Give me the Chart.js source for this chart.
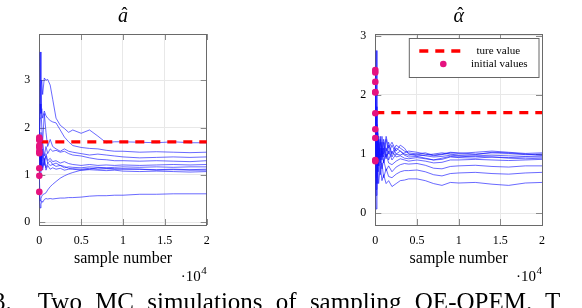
<!DOCTYPE html>
<html><head><meta charset="utf-8">
<script src="https://cdn.jsdelivr.net/npm/chart.js@4/dist/chart.umd.min.js"></script>
<style>
html,body{margin:0;padding:0;background:#fff;width:582px;height:308px;overflow:hidden;position:relative;}
#c1{position:absolute;left:0;top:0;}
#c2{position:absolute;left:291px;top:0;}
#cap{position:absolute;left:-7px;top:288px;font-family:"Liberation Serif",serif;font-size:25px;white-space:nowrap;word-spacing:7px;color:#000;}
</style></head><body>
<canvas id="c1" width="291" height="308"></canvas>
<canvas id="c2" width="291" height="308"></canvas>
<div id="cap">3.&nbsp; Two MC simulations of sampling OE-OPEM. T</div>
<script>
// ---- data ----
const sampleNumbers = [0,100,200,300,400,600,800,1000,1300,1600,2000,2500,3000,3500,4000,5000,6000,7000,8000,9000,10000,12000,14000,16000,18000,20000];
const xTickValues = [0,5000,10000,15000,20000];
const aTickValues = [0,1,2,3];
const alphaTickValues = [0,1,2,3];
const aTrueValue = 1.7;
const alphaTrueValue = 1.7;

const aRun1 = [1.79,3.6,2.4,2.0,1.7,2.3,1.9,1.6,1.75,1.6,1.55,1.5,1.55,1.5,1.48,1.45,1.42,1.44,1.42,1.4,1.38,1.36,1.37,1.38,1.37,1.38];
const aRun2 = [1.74,2.2,2.9,3.0,2.7,3.05,3.0,3.02,2.9,2.6,2.2,2.05,1.98,1.9,1.95,1.88,1.95,1.82,1.68,1.7,1.7,1.69,1.68,1.7,1.68,1.68];
const aRun3 = [1.62,2.5,2.3,2.4,2.2,2.35,2.25,2.2,2.15,2.12,2.1,1.95,1.8,1.7,1.62,1.58,1.56,1.55,1.52,1.5,1.5,1.48,1.49,1.48,1.47,1.48];
const aRun4 = [1.58,1.2,1.9,1.5,1.7,1.4,1.6,1.45,1.55,1.5,1.52,1.48,1.5,1.45,1.42,1.4,1.36,1.33,1.32,1.3,1.3,1.29,1.3,1.29,1.28,1.3];
const aRun5 = [1.5,1.0,1.6,1.3,1.5,1.2,1.45,1.3,1.35,1.28,1.3,1.25,1.28,1.24,1.22,1.2,1.22,1.2,1.21,1.2,1.21,1.2,1.21,1.22,1.21,1.22];
const aRun6 = [1.46,1.8,1.1,1.4,1.15,1.3,1.15,1.25,1.2,1.22,1.18,1.2,1.15,1.17,1.16,1.15,1.17,1.16,1.15,1.16,1.17,1.16,1.17,1.16,1.17,1.17];
const aRun7 = [1.14,1.6,1.2,1.45,1.1,1.35,1.1,1.2,1.12,1.15,1.12,1.14,1.1,1.12,1.13,1.12,1.14,1.12,1.13,1.12,1.13,1.12,1.11,1.12,1.11,1.12];
const aRun8 = [1.76,1.3,1.7,1.35,1.55,1.3,1.4,1.25,1.3,1.22,1.25,1.2,1.18,1.14,1.12,1.1,1.11,1.1,1.09,1.1,1.08,1.07,1.08,1.07,1.06,1.07];
const aRun9 = [0.98,0.45,0.5,0.55,0.58,0.6,0.62,0.68,0.75,0.8,0.86,0.93,0.98,1.02,1.05,1.1,1.12,1.15,1.14,1.13,1.12,1.12,1.1,1.11,1.1,1.1];
const aRun10 = [0.64,0.3,0.38,0.45,0.42,0.48,0.5,0.49,0.5,0.49,0.5,0.51,0.51,0.52,0.52,0.53,0.55,0.56,0.56,0.57,0.57,0.59,0.59,0.6,0.6,0.6];

const alphaRun1 = [0.88,0.07,0.6,0.9,0.5,0.8,0.55,0.65,0.5,0.55,0.45,0.5,0.55,0.56,0.58,0.58,0.55,0.5,0.47,0.52,0.51,0.52,0.49,0.47,0.51,0.52];
const alphaRun2 = [1.27,0.4,1.2,0.7,1.0,0.65,0.85,0.6,0.75,0.62,0.6,0.66,0.7,0.72,0.72,0.73,0.7,0.65,0.63,0.67,0.68,0.69,0.67,0.66,0.68,0.69];
const alphaRun3 = [1.42,2.75,0.9,1.3,0.8,1.1,0.75,0.9,0.72,0.8,0.7,0.78,0.82,0.84,0.83,0.84,0.81,0.76,0.75,0.79,0.8,0.81,0.79,0.78,0.8,0.8];
const alphaRun4 = [2.42,1.0,1.5,0.9,1.3,0.85,1.1,0.85,1.0,0.85,0.82,0.88,0.92,0.9,0.88,0.9,0.88,0.85,0.86,0.9,0.9,0.91,0.9,0.89,0.9,0.91];
const alphaRun5 = [2.38,0.6,1.3,1.1,0.8,1.25,0.9,1.2,0.95,1.15,0.95,1.1,1.05,1.0,0.98,1.0,0.97,0.95,0.96,0.98,0.97,0.96,0.95,0.94,0.95,0.95];
const alphaRun6 = [2.22,1.4,0.8,1.35,1.0,1.3,1.0,1.25,1.05,1.2,1.0,1.15,1.1,1.05,1.02,1.0,1.02,0.98,1.0,1.03,1.02,1.0,1.02,1.01,0.99,1.0];
const alphaRun7 = [2.05,1.2,0.5,1.1,1.25,0.9,1.3,1.0,1.3,1.1,1.2,1.05,1.15,1.1,1.0,0.97,0.98,1.0,1.02,1.0,0.98,0.99,1.03,1.02,1.0,0.98];
const alphaRun8 = [1.69,0.9,1.2,0.7,1.2,0.95,1.2,0.95,1.25,1.0,1.15,1.0,1.05,0.98,0.95,0.96,0.93,0.9,0.91,0.95,0.94,0.93,0.95,0.93,0.92,0.93];
const alphaRun9 = [0.9,1.8,1.0,1.4,0.9,1.2,0.95,1.1,0.92,1.05,0.9,1.0,0.98,1.02,1.05,1.03,1.0,0.97,0.99,1.02,1.01,1.03,1.05,1.03,1.01,1.02];
const alphaRun10 = [2.04,0.3,1.0,0.7,1.1,0.8,1.05,0.85,1.1,0.9,1.05,0.95,0.97,0.93,0.92,0.94,0.92,0.9,0.93,0.96,0.95,0.97,0.98,0.97,0.96,0.97];

const aRuns = [aRun1,aRun2,aRun3,aRun4,aRun5,aRun6,aRun7,aRun8,aRun9,aRun10];
const alphaRuns = [alphaRun1,alphaRun2,alphaRun3,alphaRun4,alphaRun5,alphaRun6,alphaRun7,alphaRun8,alphaRun9,alphaRun10];

// ---- styling ----
const SERIF = '"Liberation Serif", "DejaVu Serif", serif';
const BLUE = 'rgba(20,20,255,0.8)';
const RED = '#ff0000';
const MAGENTA = '#e5127f';
const GRID = '#e8e8e8';
const BOX = '#6a6a6a';

function buildDatasets(runs, trueValue){
  const ds = [];
  ds.push({
    type:'scatter', label:'initial values',
    data: runs.map(r => ({x: sampleNumbers[0], y: r[0]})),
    pointRadius:3.3, pointBackgroundColor:MAGENTA, pointBorderColor:MAGENTA, pointBorderWidth:0,
    showLine:false, clip:false, order:0
  });
  ds.push({
    label:'ture value',
    data:[{x:sampleNumbers[0],y:trueValue},{x:sampleNumbers[sampleNumbers.length-1],y:trueValue}],
    borderColor:RED, borderWidth:3.3, borderDash:[9,7], pointRadius:0, order:1, clip:false
  });
  runs.forEach((r,i) => ds.push({
    label:'run'+(i+1),
    data: sampleNumbers.map((x,j)=>({x, y:r[j]})),
    borderColor:BLUE, borderWidth:0.8, pointRadius:0, tension:0, order:2
  }));
  return ds;
}

const decoPlugin = {
  id:'deco',
  beforeDatasetsDraw(chart, args, o){
    const {ctx, chartArea:a, scales} = chart;
    ctx.save();
    ctx.strokeStyle = '#8a8a8a'; ctx.lineWidth = 1;
    const TL = 6;
    scales.x.ticks.forEach(t => {
      const px = Math.round(scales.x.getPixelForValue(t.value)) + 0.5;
      ctx.beginPath();
      ctx.moveTo(px, a.bottom); ctx.lineTo(px, a.bottom - TL);
      ctx.moveTo(px, a.top); ctx.lineTo(px, a.top + TL);
      ctx.stroke();
    });
    scales.y.ticks.forEach(t => {
      const py = Math.round(scales.y.getPixelForValue(t.value)) + 0.5;
      ctx.beginPath();
      ctx.moveTo(a.left, py); ctx.lineTo(a.left + TL, py);
      ctx.moveTo(a.right, py); ctx.lineTo(a.right - TL, py);
      ctx.stroke();
    });
    ctx.strokeStyle = BOX; ctx.lineWidth = 1;
    ctx.strokeRect(Math.round(a.left)+0.5, Math.round(a.top)+0.5, Math.round(a.right-a.left), Math.round(a.bottom-a.top));
    ctx.restore();
  },
  afterDraw(chart, args, o){
    const {ctx, chartArea:a} = chart;
    const cx = (a.left + a.right)/2;
    ctx.save();
    ctx.fillStyle = '#000';
    ctx.textAlign = 'center'; ctx.textBaseline = 'alphabetic';
    ctx.font = 'italic 20px ' + SERIF;
    ctx.fillText(o.title, cx, 22);
    ctx.font = '18px ' + SERIF;
    ctx.fillText('\u02C6', cx + 1.5, 20);
    ctx.textBaseline = 'middle';
    ctx.font = '16px ' + SERIF;
    ctx.fillText('sample number', cx, 259);
    ctx.textAlign = 'right'; ctx.textBaseline = 'alphabetic';
    ctx.font = '11px ' + SERIF;
    const w4 = ctx.measureText('4').width;
    ctx.fillText('4', a.right, 274);
    ctx.font = '15px ' + SERIF;
    ctx.fillText('\u00B710', a.right - w4 - 0.5, 281);
    if (o.legend){
      const L = a.left + 34, T = 38.5, R = a.right - 3, B = 77.5;
      ctx.fillStyle = '#fff'; ctx.fillRect(L, T, R-L, B-T);
      ctx.strokeStyle = '#666'; ctx.lineWidth = 1; ctx.strokeRect(L, T, R-L, B-T);
      ctx.strokeStyle = RED; ctx.lineWidth = 3.3; ctx.setLineDash([9,7]);
      ctx.beginPath(); ctx.moveTo(L+10, 51); ctx.lineTo(L+53, 51); ctx.stroke();
      ctx.setLineDash([]);
      ctx.fillStyle = MAGENTA; ctx.beginPath(); ctx.arc(L+34, 64, 3.3, 0, Math.PI*2); ctx.fill();
      ctx.fillStyle = '#000'; ctx.font = '11px ' + SERIF; ctx.textAlign = 'center'; ctx.textBaseline = 'middle';
      ctx.fillText('ture value', L+89, 51);
      ctx.fillText('initial values', L+90, 64);
    }
    ctx.restore();
  }
};

function makeChart(id, runs, trueValue, yMin, yMax, yTicks, padLeftWidth, padRight, title, legend){
  return new Chart(document.getElementById(id), {
    type:'line',
    data:{datasets: buildDatasets(runs, trueValue)},
    plugins:[decoPlugin],
    options:{
      responsive:false, animation:false, devicePixelRatio:1,
      layout:{padding:{left:0, right:padRight, top:34, bottom:0}},
      plugins:{legend:{display:false}, tooltip:{enabled:false}, deco:{title, legend}},
      scales:{
        x:{type:'linear', min:0, max:20000,
           afterBuildTicks:s=>{ s.ticks = xTickValues.map(v=>({value:v})); },
           afterFit:s=>{ s.height = 83; },
           ticks:{callback:v=>String(v/10000), color:'#000', font:{family:SERIF, size:12}, padding:9, maxRotation:0, autoSkip:false},
           grid:{color:GRID, drawTicks:false, lineWidth:1}, border:{display:false}},
        y:{type:'linear', min:yMin, max:yMax,
           afterBuildTicks:s=>{ s.ticks = yTicks.map(v=>({value:v})); },
           afterFit:s=>{ s.width = padLeftWidth; },
           ticks:{color:'#000', font:{family:SERIF, size:12}, padding:9},
           grid:{color:GRID, drawTicks:false, lineWidth:1}, border:{display:false}}
      }
    }
  });
}

makeChart('c1', aRuns, aTrueValue, -0.06, 3.98, aTickValues, 39.3, 84.3, 'a', false);
makeChart('c2', alphaRuns, alphaTrueValue, -0.2, 3.03, alphaTickValues, 84.3, 40, '\u03B1', true);
</script>
</body></html>
